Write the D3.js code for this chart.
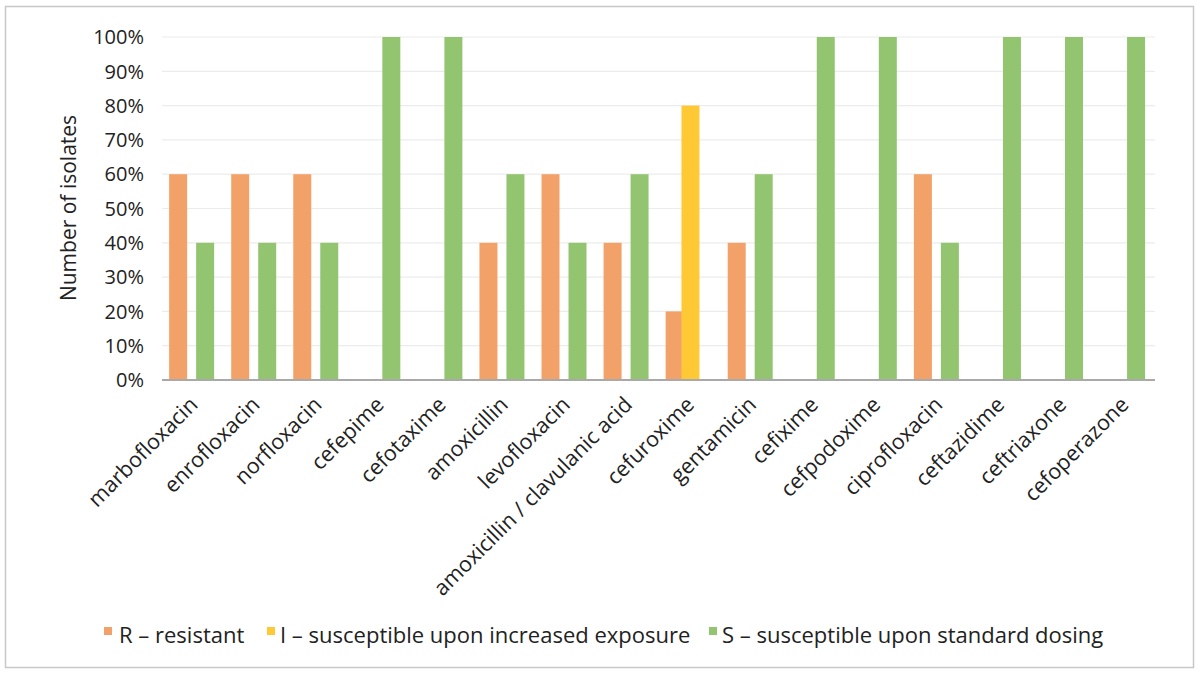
<!DOCTYPE html>
<html>
<head>
<meta charset="utf-8">
<script src="https://cdn.jsdelivr.net/npm/d3@7"></script>
<style>
  body { margin: 0; background: #fff; }
  text { font-family: "Open Sans", "Noto Sans", sans-serif; fill: #222; }
</style>
</head>
<body>
<div id="chart"></div>
<script>
const categorias = ["marbofloxacin", "enrofloxacin", "norfloxacin", "cefepime", "cefotaxime",
  "amoxicillin", "levofloxacin", "amoxicillin / clavulanic acid", "cefuroxime", "gentamicin",
  "cefixime", "cefpodoxime", "ciprofloxacin", "ceftazidime", "ceftriaxone", "cefoperazone"];
const serieR = [60, 60, 60, 0, 0, 40, 60, 40, 20, 40, 0, 0, 60, 0, 0, 0];
const serieI = [0, 0, 0, 0, 0, 0, 0, 0, 80, 0, 0, 0, 0, 0, 0, 0];
const serieS = [40, 40, 40, 100, 100, 60, 40, 60, 0, 60, 100, 100, 40, 100, 100, 100];
const ticksY = [0, 10, 20, 30, 40, 50, 60, 70, 80, 90, 100];
const series = [
  { key: "R", label: "R  \u2013 resistant", color: "#f2a268", values: serieR },
  { key: "I", label: "I \u2013 susceptible upon increased exposure", color: "#ffc936", values: serieI },
  { key: "S", label: "S \u2013 susceptible upon standard dosing", color: "#93c571", values: serieS }
];

const width = 1200, height = 674;
const svg = d3.select("#chart").append("svg")
  .attr("width", width).attr("height", height);

// marco exterior
svg.append("rect").attr("x", 5.5).attr("y", 6.5).attr("width", 1188).attr("height", 661)
  .attr("fill", "none").attr("stroke", "#c8c8c8").attr("stroke-width", 1.5);

const x = d3.scaleBand().domain(categorias).range([162, 1155]).padding(0);
const y = d3.scaleLinear().domain([0, 100]).range([380, 37]);
// desplazamiento de cada serie dentro del grupo (fraccion del ancho de banda)
const offset = d3.scaleOrdinal().domain(["R", "I", "S"]).range([0.115, 0.37, 0.55]);
const barW = x.bandwidth() * 0.29;

svg.append("g").selectAll("line").data(ticksY.filter(d => d > 0)).enter().append("line")
  .attr("x1", 162).attr("x2", 1155)
  .attr("y1", d => y(d)).attr("y2", d => y(d))
  .attr("stroke", "#ececec").attr("stroke-width", 1.2);

svg.append("g").selectAll("text").data(ticksY).enter().append("text")
  .attr("x", 144).attr("y", d => y(d)).attr("dy", "0.36em")
  .attr("text-anchor", "end").style("font-size", "20px")
  .text(d => d + "%");

series.forEach(s => {
  svg.append("g").selectAll("rect")
    .data(categorias.map((c, i) => ({ c, v: s.values[i] })).filter(d => d.v > 0))
    .enter().append("rect")
    .attr("x", d => x(d.c) + offset(s.key) * x.bandwidth())
    .attr("y", d => y(d.v))
    .attr("width", barW)
    .attr("height", d => y(0) - y(d.v))
    .attr("fill", s.color);
});

svg.append("line").attr("x1", 162).attr("x2", 1155).attr("y1", y(0)).attr("y2", y(0))
  .attr("stroke", "#a9a9a9").attr("stroke-width", 2);

svg.append("g").selectAll("text").data(categorias).enter().append("text")
  .attr("transform", d => `translate(${x(d) + x.bandwidth() / 2 + 6},${406}) rotate(-45)`)
  .attr("text-anchor", "end").style("font-size", "21.5px")
  .text(d => d);

svg.append("text")
  .attr("transform", "translate(76,208) rotate(-90)")
  .attr("text-anchor", "middle").style("font-size", "21px")
  .text("Number of isolates");

// leyenda
const legX = [104, 267, 709];
const leg = svg.append("g");
series.forEach((s, i) => {
  leg.append("rect").attr("x", legX[i]).attr("y", 627).attr("width", 8).attr("height", 8)
    .attr("fill", s.color);
  leg.append("text").attr("x", legX[i] + (i === 0 ? 15 : 13)).attr("y", 643)
    .style("font-size", "22px").text(s.label);
});
</script>
</body>
</html>
